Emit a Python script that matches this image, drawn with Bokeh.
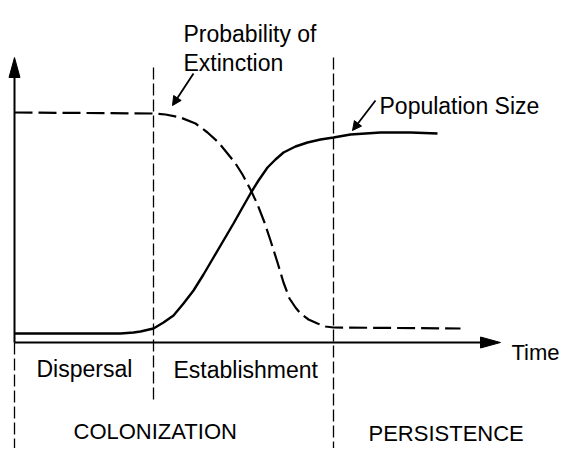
from bokeh.plotting import figure
from bokeh.models import Range1d, Arrow, NormalHead, ColumnDataSource
from bokeh.core.properties import value
from bokeh.embed import file_html
from bokeh.resources import INLINE

# ---- schematic data (arbitrary units: time along x, quantity along y) ----
pop_time = [0, 106, 119, 126, 139, 149, 159, 169, 179, 189, 199, 209, 219, 228, 236,
            244, 253, 261, 269, 281, 293, 306, 319, 336, 366, 396, 423]
pop_size = [9, 9, 10, 11, 14, 20, 27, 39, 52, 68, 85, 102, 119, 135, 149,
            162, 175, 183, 190, 196, 200, 203, 205, 208, 210, 210, 209]

ext_time = [0, 139, 151, 166, 181, 193, 204, 213, 221, 228, 236, 243, 250, 256,
            263, 269, 275, 281, 286, 294, 303, 311, 319, 446]
ext_prob = [230, 229, 228, 225, 219, 210, 200, 189, 179, 168, 153, 138, 120, 102,
            80, 60, 44, 35, 29, 23, 19, 16, 15, 14]

# phase boundaries (time) and their vertical extent
phase_x = [0, 139, 319]
phase_top = [0, 275, 285]
phase_bottom = [-130, -58, -130]

# axis extents
x_axis_end = 486
y_axis_end = 285

# labels
label_text = ["Probability of", "Extinction", "Population Size",
              "Dispersal", "Establishment"]
label_x = [169, 169, 365, 22, 159]
label_y = [309, 280, 237, -26, -27]

time_label = ["Time"]
time_x = [497]
time_y = [-10]

phase_text = ["COLONIZATION", "PERSISTENCE"]
phase_tx = [59, 354]
phase_ty = [-89, -91]

# pointer arrows (start -> tip)
ptr_x0 = [179, 361]
ptr_y0 = [269, 242]
ptr_x1 = [158, 338]
ptr_y1 = [237, 212]

p = figure(width=560, height=448, output_backend="svg", toolbar_location=None,
           x_range=Range1d(-14, 546), y_range=Range1d(-106, 342),
           x_axis_type=None, y_axis_type=None, min_border=0,
           outline_line_color=None, background_fill_color="white",
           border_fill_color="white")
p.grid.visible = False

# phase divider lines
for xv, yt, yb in zip(phase_x, phase_top, phase_bottom):
    p.line([xv, xv], [yt, yb], line_color="black", line_width=1.3, line_dash="12 4")

# axes
p.line([0, x_axis_end - 18], [0, 0], line_color="black", line_width=2)
p.line([0, 0], [0, y_axis_end - 18], line_color="black", line_width=2)
head_len, head_half = 20, 5.5
p.patch([x_axis_end, x_axis_end - head_len, x_axis_end - head_len],
        [0, head_half, -head_half], color="black")
p.patch([0, head_half, -head_half],
        [y_axis_end, y_axis_end - head_len, y_axis_end - head_len], color="black")

# curves
p.line(ext_time, ext_prob, line_color="black", line_width=2.2, line_dash="18 6")
p.line(pop_time, pop_size, line_color="black", line_width=2.4)

# pointer arrows
for x0, y0, x1, y1 in zip(ptr_x0, ptr_y0, ptr_x1, ptr_y1):
    p.add_layout(Arrow(x_start=x0, y_start=y0, x_end=x1, y_end=y1,
                       line_color="black", line_width=1.8,
                       end=NormalHead(size=9, fill_color="black", line_color="black")))

# labels
src = ColumnDataSource(dict(x=label_x, y=label_y, t=label_text))
p.text("x", "y", text="t", source=src, text_font=value("Liberation Sans"),
       text_font_size="23px", text_align="left", text_baseline="alphabetic",
       text_color="black")
src_t = ColumnDataSource(dict(x=time_x, y=time_y, t=time_label))
p.text("x", "y", text="t", source=src_t, text_font=value("Liberation Sans"),
       text_font_size="22px", text_align="left", text_baseline="alphabetic",
       text_color="black")
src2 = ColumnDataSource(dict(x=phase_tx, y=phase_ty, t=phase_text))
p.text("x", "y", text="t", source=src2, text_font=value("Liberation Sans"),
       text_font_size="22px", text_align="left", text_baseline="alphabetic",
       text_color="black")

open("out.html", "w").write(file_html(p, INLINE))
